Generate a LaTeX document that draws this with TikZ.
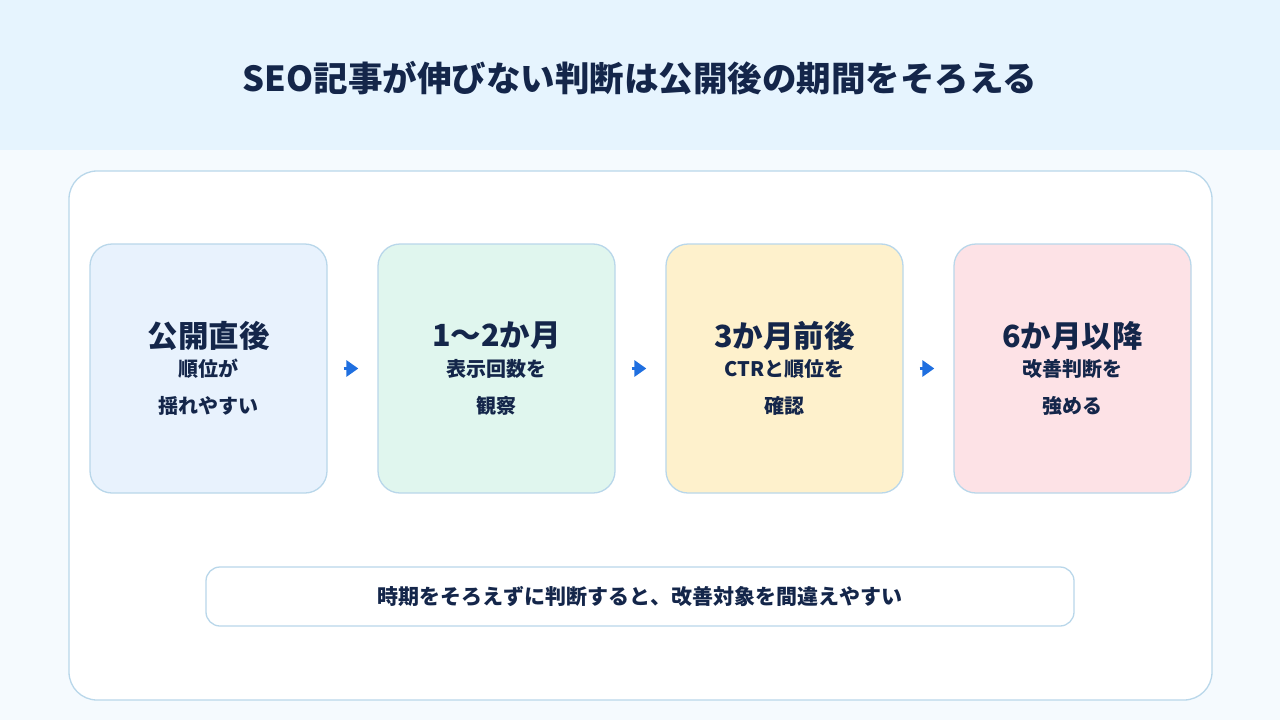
\documentclass[tikz,border=0pt]{standalone}
\usepackage{fontspec}
\setmainfont{Noto Sans CJK JP}
\usetikzlibrary{arrows.meta}
\definecolor{headbg}{HTML}{E6F4FE}
\definecolor{pagebg}{HTML}{F5FAFE}
\definecolor{edge}{HTML}{B9D7EA}
\definecolor{ink}{HTML}{14264A}
\definecolor{arrowblue}{HTML}{1F6FE0}
\definecolor{fillA}{HTML}{E8F2FD}
\definecolor{fillB}{HTML}{E0F6EE}
\definecolor{fillC}{HTML}{FEF1CC}
\definecolor{fillD}{HTML}{FDE2E6}
\tikzset{
  stagebox/.style={draw=edge, line width=1.3pt, rounded corners=22pt, minimum width=237pt, minimum height=249pt, inner sep=0pt},
  stagehead/.style={font=\bfseries\fontsize{30.5}{34}\selectfont, text=ink},
  stagetext/.style={font=\bfseries\fontsize{20}{37}\selectfont, text=ink, align=center},
  flowarrow/.style={draw=arrowblue, line width=3pt, -{Triangle[length=12pt,width=16pt]}, shorten <=16pt, shorten >=19pt},
}
\begin{document}
\begin{tikzpicture}[x=1pt,y=-1pt]
\useasboundingbox (0,0) rectangle (1280,720);
\fill[pagebg] (0,0) rectangle (1280,720);
\fill[headbg] (0,0) rectangle (1280,150);
\node[font=\bfseries\fontsize{34.5}{38}\selectfont, text=ink] (title) at (640,78) {SEO記事が伸びない判断は公開後の期間をそろえる};
\draw[edge, fill=white, line width=1.3pt, rounded corners=28pt] (69,171) rectangle (1212,700);
\node[stagebox, fill=fillA] (b1) at (208.5,368.5) {};
\node[stagebox, fill=fillB] (b2) at (496.5,368.5) {};
\node[stagebox, fill=fillC] (b3) at (784.5,368.5) {};
\node[stagebox, fill=fillD] (b4) at (1072.5,368.5) {};
\foreach \b/\h/\t in {b1/公開直後/{順位が\\揺れやすい}, b2/1〜2か月/{表示回数を\\観察}, b3/3か月前後/{CTRと順位を\\確認}, b4/6か月以降/{改善判断を\\強める}}{
  \node[stagehead] (\b h) at ([yshift=33pt]\b.center) {\h};
  \node[stagetext] (\b t) at ([yshift=-19pt]\b.center) {\t};
}
\draw[flowarrow] (b1) -- (b2);
\draw[flowarrow] (b2) -- (b3);
\draw[flowarrow] (b3) -- (b4);
\node[draw=edge, fill=white, line width=1.3pt, rounded corners=14pt, minimum width=868pt, minimum height=59pt, font=\bfseries\fontsize{21}{24}\selectfont, text=ink] (note) at (640,596.5) {時期をそろえずに判断すると、改善対象を間違えやすい};
\end{tikzpicture}
\end{document}
